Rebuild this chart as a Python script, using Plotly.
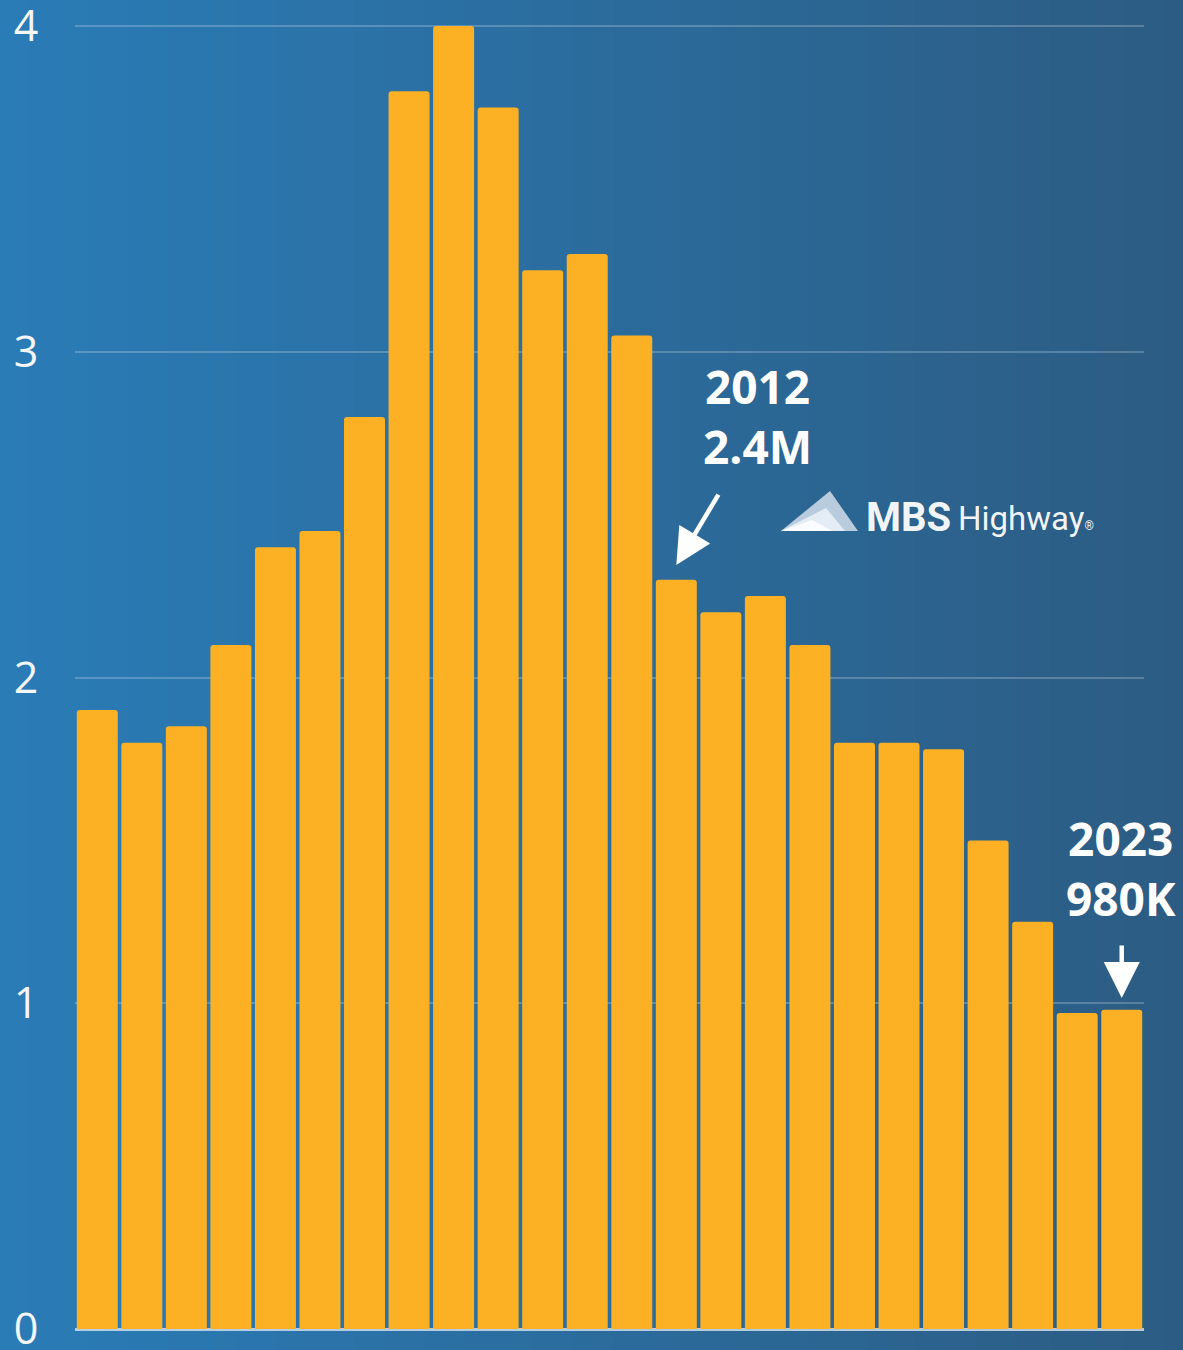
import plotly.graph_objects as go

W, H = 1183, 1350

years = [str(y) for y in range(2000, 2024)]
values = [1.90, 1.80, 1.85, 2.10, 2.40, 2.45, 2.80, 3.80, 4.00, 3.75, 3.25, 3.30,
          3.05, 2.30, 2.20, 2.25, 2.10, 1.80, 1.80, 1.78, 1.50, 1.25, 0.97, 0.98]
y_ticks = [0, 1, 2, 3, 4]
y_tick_labels = ["0", "1", "2", "3", "4"]

BAR_COLOR = "#FBB123"

# pixel geometry of the plot
Y0_PX, Y4_PX = 1329, 26
PPU = (Y0_PX - Y4_PX) / 4.0
PAD = 0.04
R_LO, R_HI = -PAD, 4 + PAD


def px(x):
    return x / W


def py(y):
    return 1 - y / H


def lerp_color(c1, c2, t):
    a = [int(c1[i:i + 2], 16) for i in (1, 3, 5)]
    b = [int(c2[i:i + 2], 16) for i in (1, 3, 5)]
    return "rgb(%d,%d,%d)" % tuple(round(a[i] + (b[i] - a[i]) * t) for i in range(3))


fig = go.Figure()
fig.add_trace(go.Bar(x=years, y=values, marker=dict(color=BAR_COLOR, line=dict(width=0)),
                     hoverinfo="x+y"))

shapes = []
N = 120
for i in range(N):
    shapes.append(dict(type="rect", xref="paper", yref="paper",
                       x0=i / N, x1=(i + 1) / N + 0.002, y0=-0.01, y1=1.01,
                       fillcolor=lerp_color("#2A7CB7", "#2C5C83", (i + 0.5) / N),
                       line=dict(width=0), layer="below"))


def path(points):
    return "M " + " L ".join("%f,%f" % (px(a), py(b)) for a, b in points) + " Z"

# logo triangles
shapes.append(dict(type="path", xref="paper", yref="paper",
                   path=path([(781, 531), (830, 491), (858, 531)]),
                   fillcolor="rgba(200,215,230,0.9)", line=dict(width=0), layer="above"))
shapes.append(dict(type="path", xref="paper", yref="paper",
                   path=path([(781, 531), (826, 508), (845, 531)]),
                   fillcolor="rgba(230,238,245,0.95)", line=dict(width=0), layer="above"))
shapes.append(dict(type="path", xref="paper", yref="paper",
                   path=path([(781, 531), (812, 520), (832, 531)]),
                   fillcolor="rgba(250,252,255,1)", line=dict(width=0), layer="above"))

annotations = [
    dict(xref="paper", yref="paper", x=px(757), y=py(416), text="2012<br>2.4M",
         showarrow=False, font=dict(family="Open Sans", size=46, color="white", weight="bold"),
         xanchor="center", yanchor="middle"),
    dict(xref="paper", yref="paper", x=px(1121), y=py(868), text="2023<br>980K",
         showarrow=False, font=dict(family="Open Sans", size=46, color="white", weight="bold"),
         xanchor="center", yanchor="middle"),
    dict(x=years[13], y=2.345, text="", showarrow=True, ax=43, ay=-72,
         arrowhead=2, arrowsize=1.6, arrowwidth=4.5, arrowcolor="white"),
    dict(x=years[23], y=1.016, text="", showarrow=True, ax=0, ay=-54,
         arrowhead=2, arrowsize=1.6, arrowwidth=4.5, arrowcolor="white"),
    dict(xref="paper", yref="paper", x=px(864), y=py(518), text="<b>MBS</b>",
         showarrow=False, xanchor="left", yanchor="middle",
         font=dict(family="Roboto", size=40, color="rgba(255,255,255,0.95)")),
    dict(xref="paper", yref="paper", x=px(956), y=py(519),
         text="Highway<span style='font-size:12px'>®</span>",
         showarrow=False, xanchor="left", yanchor="middle",
         font=dict(family="Roboto", size=33, color="rgba(255,255,255,0.95)")),
]

dom_bottom_px = Y0_PX + PAD * PPU
dom_top_px = Y4_PX - PAD * PPU

fig.update_layout(
    width=W, height=H,
    margin=dict(l=0, r=0, t=0, b=0),
    paper_bgcolor="#2A6A9A", plot_bgcolor="rgba(0,0,0,0)",
    template="none",
    showlegend=False,
    bargap=0.08,
    barcornerradius=3,
    shapes=shapes,
    annotations=annotations,
    xaxis=dict(domain=[px(75), px(1144)], showticklabels=False, showgrid=False,
               zeroline=False, showline=False, ticks="", automargin=False),
    yaxis=dict(domain=[1 - dom_bottom_px / H, 1 - dom_top_px / H], range=[R_LO, R_HI],
               tickvals=y_ticks, ticktext=y_tick_labels,
               ticks="outside", ticklen=27, tickcolor="rgba(0,0,0,0)",
               ticklabeloverflow="allow",
               tickfont=dict(family="Open Sans", size=43, color="#F4F6F8"),
               showgrid=True, gridcolor="rgba(255,255,255,0.22)", gridwidth=2,
               zeroline=True, zerolinecolor="rgba(215,228,240,0.8)", zerolinewidth=3,
               showline=False, automargin=False),
)

fig.write_html("out.html", config={"displayModeBar": False},
               post_script="document.body.style.margin='0';document.body.style.overflow='hidden';")
